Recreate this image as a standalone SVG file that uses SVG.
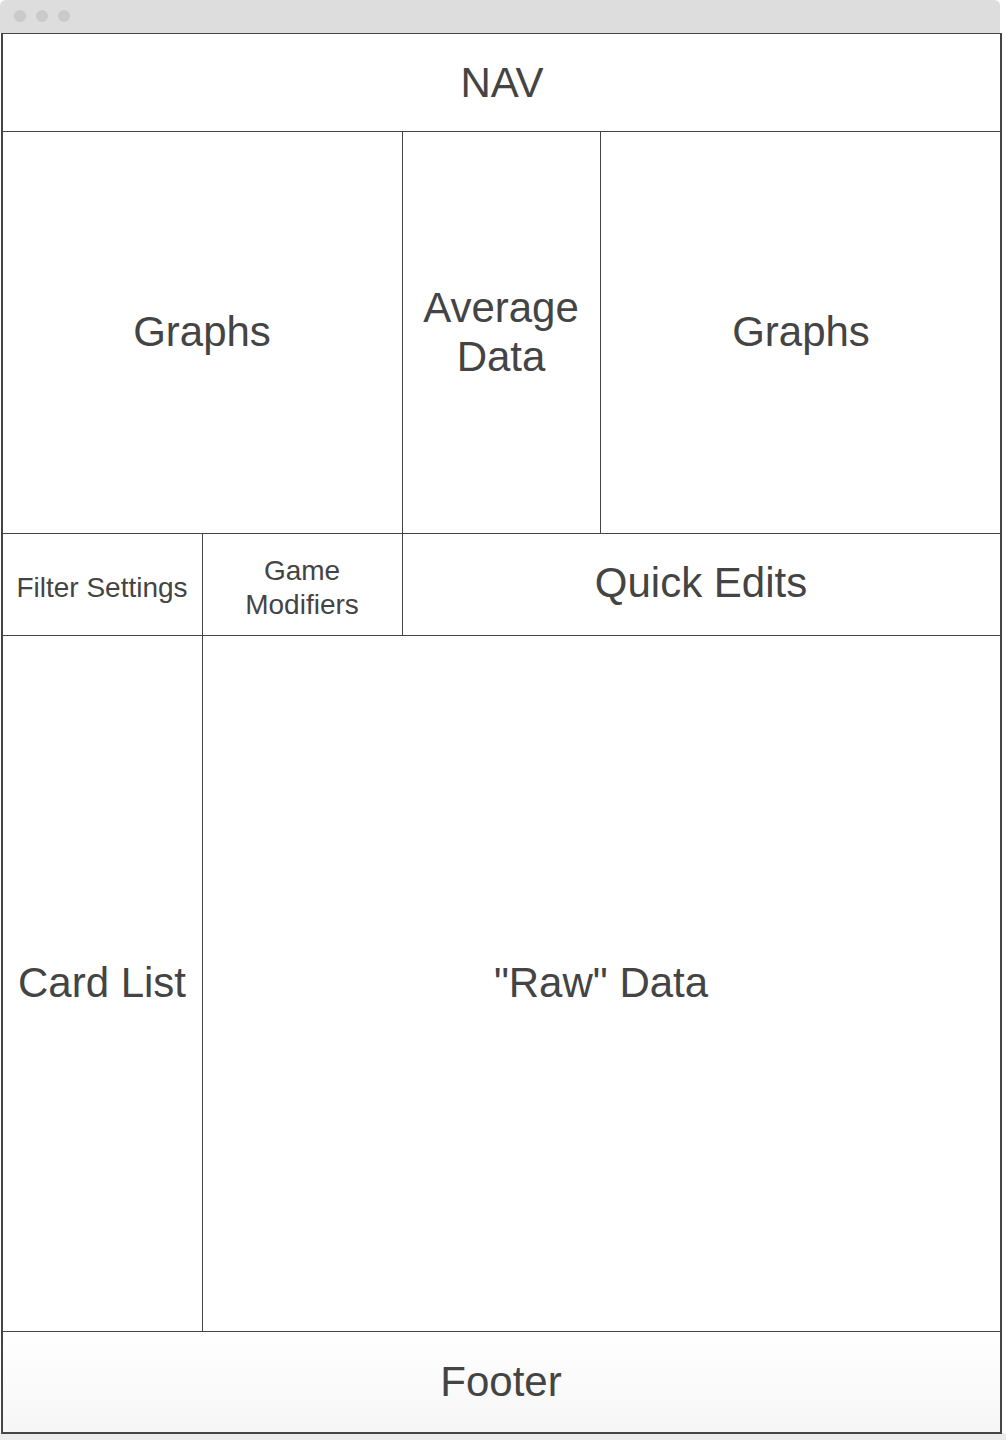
<svg xmlns="http://www.w3.org/2000/svg" width="1006" height="1440" viewBox="0 0 1006 1440">
<defs>
<linearGradient id="footGrad" x1="0" y1="0" x2="0" y2="1">
<stop offset="0" stop-color="#ffffff"/>
<stop offset="1" stop-color="#f6f6f6"/>
</linearGradient>
<style>
.cell{fill:none;stroke:#444;stroke-width:1}
.t{font-family:"Liberation Sans",Arial,sans-serif;fill:#444;text-anchor:middle}
.big{font-size:42px}
.small{font-size:28px}
.dot{fill:#cacaca}
</style>
</defs>
<rect x="0" y="0" width="1006" height="1440" fill="#ffffff"/>
<rect x="0" y="1433" width="1006" height="7" fill="#ebebeb"/>
<g id="chrome">
<path d="M0,33 V6 Q0,0 6,0 H994 Q1000,0 1000,6 V33 Z" fill="#dddddd"/>
<circle class="dot" cx="20" cy="16" r="6"/>
<circle class="dot" cx="42" cy="16" r="6"/>
<circle class="dot" cx="64" cy="16" r="6"/>
</g>
<g id="nav"><rect class="cell" x="2.5" y="33.5" width="998" height="98"/><text class="t big" x="502" y="97">NAV</text></g>
<g id="graphs-left"><rect class="cell" x="2.5" y="131.5" width="400" height="402"/><text class="t big" x="202" y="346">Graphs</text></g>
<g id="average-data"><rect class="cell" x="402.5" y="131.5" width="198" height="402"/><text class="t big" x="501" y="322">Average</text><text class="t big" x="501" y="371">Data</text></g>
<g id="graphs-right"><rect class="cell" x="600.5" y="131.5" width="400" height="402"/><text class="t big" x="801" y="346">Graphs</text></g>
<g id="filter-settings"><rect class="cell" x="2.5" y="533.5" width="200" height="102"/><text class="t small" x="102" y="597">Filter Settings</text></g>
<g id="game-modifiers"><rect class="cell" x="202.5" y="533.5" width="200" height="102"/><text class="t small" x="302" y="580">Game</text><text class="t small" x="302" y="614">Modifiers</text></g>
<g id="quick-edits"><rect class="cell" x="402.5" y="533.5" width="598" height="102"/><text class="t big" x="701" y="597">Quick Edits</text></g>
<g id="card-list"><rect class="cell" x="2.5" y="635.5" width="200" height="696"/><text class="t big" x="102" y="997">Card List</text></g>
<g id="raw-data"><rect class="cell" x="202.5" y="635.5" width="798" height="696"/><text class="t big" x="601" y="997">"Raw" Data</text></g>
<g id="footer"><rect x="2.5" y="1331.5" width="998" height="101" fill="url(#footGrad)" stroke="#444" stroke-width="1"/><text class="t big" x="501" y="1396">Footer</text></g>
<g id="frame"><path d="M2,33 V1433 H1001 V33" fill="none" stroke="#444" stroke-width="2"/></g>
<g id="connectors"></g>
</svg>
